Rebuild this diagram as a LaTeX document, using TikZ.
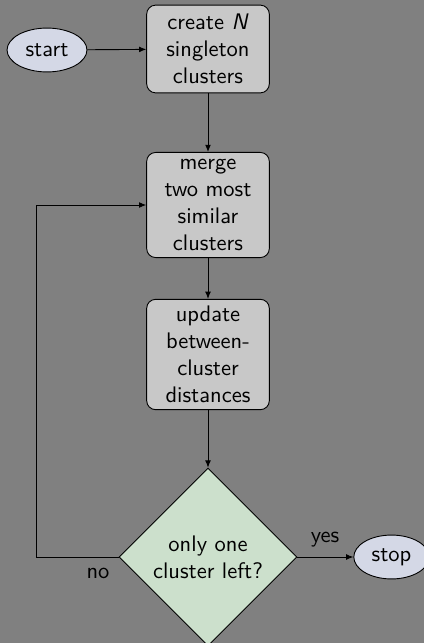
\documentclass[tikz,border=0pt]{standalone}
\usetikzlibrary{shapes.geometric,arrows.meta,positioning}
\renewcommand{\familydefault}{\sfdefault}
\definecolor{bggray}{RGB}{128,128,128}
\definecolor{blockfill}{RGB}{200,200,200}
\definecolor{cloudfill}{RGB}{212,216,230}
\definecolor{decisionfill}{RGB}{204,224,204}
\tikzset{
  block/.style={rectangle, draw, fill=blockfill, text width=48.5pt, align=center,
    rounded corners=4pt, minimum height=39pt, inner sep=3pt},
  cloud/.style={ellipse, draw, fill=cloudfill, inner sep=0pt, minimum height=19.5pt},
  decision/.style={diamond, draw, fill=decisionfill, text width=60pt, align=center,
    inner sep=0pt, minimum size=77.5pt, aspect=1},
  line/.style={draw, -{Latex[length=3.2pt,width=2.6pt]}},
  lbl/.style={inner sep=0pt}
}
\begin{document}
\begin{tikzpicture}[x=0.4444pt, y=-0.4444pt]
  % canvas
  \path[use as bounding box, fill=bggray] (0,0) rectangle (424,643);
  \begin{scope}
    \clip (0,0) rectangle (424,643);
    % nodes
    \node[cloud, minimum width=35.5pt] (start) at (47,50) {start};
    \node[block] (init) at (208,49) {create \textit{N}\\ singleton\\ clusters};
    \node[block] (merge) at (208,205) {merge\\ two most\\ similar\\ clusters};
    \node[block] (update) at (208,354.5) {update\\ between-\\ cluster\\ distances};
    \node[decision] (decide) at (208,557) {only one\\ cluster left?};
    \node[cloud, minimum width=33.5pt] (stop) at (391.5,557) {stop};
    \coordinate (loopcorner) at (36,557);
    % connectors
    \path[line] (start) -- (init);
    \path[line] (init) -- (merge);
    \path[line] (merge) -- (update);
    \path[line] (update) -- (decide);
    \path[line] (decide) -- (stop);
    \path[line] (decide.west) -- (loopcorner) |- (merge.west);
    \node[lbl] (yes) at (325,540) {yes};
    \node[lbl] (no) at (98,573) {no};
  \end{scope}
\end{tikzpicture}
\end{document}
